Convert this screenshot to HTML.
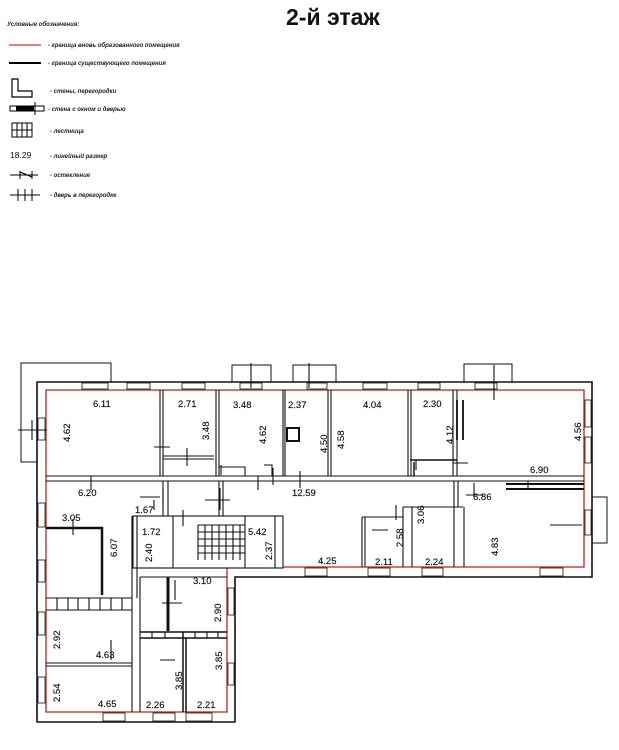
<!DOCTYPE html>
<html><head><meta charset="utf-8"><style>
html,body{margin:0;padding:0;background:#fff;}
svg{display:block;}
text{font-family:"Liberation Sans",sans-serif;}
.d{font-size:9.5px;fill:#111;font-weight:500;stroke:#111;stroke-width:0.15;}
.lg{font-size:6px;font-style:italic;font-weight:bold;fill:#222;}
</style></head><body>
<svg width="619" height="750" viewBox="0 0 619 750" xmlns="http://www.w3.org/2000/svg">
<text x="286" y="25" font-size="23" font-weight="bold" fill="#111" font-family="Liberation Sans,sans-serif">2-й этаж</text>
<!-- legend -->
<text x="7" y="26" class="lg">Условные обозначения:</text>
<line x1="9" y1="45" x2="41" y2="45" stroke="#c33" stroke-width="1.2"/>
<text x="48" y="47" class="lg">- граница вновь образованного помещения</text>
<line x1="9" y1="63" x2="41" y2="63" stroke="#000" stroke-width="2"/>
<text x="48" y="65" class="lg">- граница существующего помещения</text>
<path d="M12 79 H18 V91 H32 V97 H12 Z" fill="none" stroke="#000" stroke-width="1.2"/>
<text x="50" y="93" class="lg">- стены, перегородки</text>
<rect x="10" y="106" width="34" height="5" fill="none" stroke="#000"/><rect x="16" y="106" width="18" height="5" fill="#000"/><line x1="35" y1="102" x2="35" y2="115" stroke="#000"/>
<text x="48" y="111" class="lg">- стена с окном и дверью</text>
<rect x="12" y="123" width="20" height="14" fill="none" stroke="#000"/><path d="M17 123V137M22 123V137M27 123V137M12 130H32" stroke="#000" fill="none"/>
<text x="50" y="133" class="lg">- лестница</text>
<text x="10" y="158" font-size="8.5" fill="#111">18.29</text>
<text x="50" y="158" class="lg">- линейный размер</text>
<path d="M10 175H38M20 171V179M32 171V179M20 172L32 177" stroke="#000" fill="none"/>
<text x="50" y="177" class="lg">- остекление</text>
<path d="M10 195H40M18 189V201M25 189V201M32 189V201" stroke="#000" fill="none"/>
<text x="50" y="197" class="lg">- дверь в перегородке</text>

<g fill="none" stroke="#111" stroke-width="1">
<rect x="21" y="363" width="90" height="99" fill="#fff"/>
<rect x="232" y="365" width="39" height="17"/>
<rect x="293" y="365" width="43" height="17"/>
<rect x="464" y="364" width="48" height="18"/>
<rect x="592" y="497" width="15" height="46"/>
<path d="M37 382 H592 V577 H235 V722 H37 Z" fill="#fff" stroke-width="1.6"/>
</g>
<path d="M46 390 H584 V567 H227 V712 H46 Z" fill="none" stroke="#b22" stroke-width="1.3"/>
<g fill="#fff" stroke="#111" stroke-width="0.8">
<rect x="82" y="383" width="26" height="6"/><rect x="127" y="383" width="23" height="6"/><rect x="182" y="383" width="23" height="6"/><rect x="240" y="383" width="22" height="6"/><rect x="307" y="383" width="20" height="6"/><rect x="363" y="383" width="24" height="6"/><rect x="418" y="383" width="22" height="6"/><rect x="475" y="383" width="22" height="6"/>
<rect x="585" y="400" width="6" height="27"/><rect x="585" y="437" width="6" height="26"/><rect x="585" y="510" width="6" height="25"/>
<rect x="305" y="568" width="22" height="8"/><rect x="368" y="568" width="22" height="8"/><rect x="422" y="568" width="21" height="8"/><rect x="540" y="568" width="23" height="8"/>
<rect x="38" y="418" width="7" height="22"/><rect x="38" y="503" width="7" height="24"/><rect x="38" y="560" width="7" height="22"/><rect x="38" y="612" width="7" height="23"/><rect x="38" y="677" width="7" height="26"/>
<rect x="103" y="713" width="22" height="8"/><rect x="153" y="713" width="22" height="8"/><rect x="186" y="713" width="26" height="8"/>
<rect x="228" y="588" width="6" height="27"/><rect x="228" y="663" width="6" height="22"/>
</g>
<g fill="none" stroke="#111" stroke-width="1.1">
<path d="M46 476 H584 M46 481 H584"/>
<path d="M160 390V476M163 390V476M216 390V476M219 390V476M283 390V476M285 390V476M328 390V476M331 390V476M408 390V476M411 390V476M453 390V476M457 390V476"/>
<path d="M163 456H214M163 459H214M219 467H245V476M264 465H272V476"/>
<rect x="287" y="428" width="12" height="13" stroke-width="2"/>
<rect x="133" y="516" width="150" height="52" fill="#fff"/>
<path d="M173 516V568M198 525V560M245 516V568M275 516V568M163 481V516M168 481V516M219 481V516M223 481V516"/>
<path d="M198 525H245M198 532H245M198 539H245M198 546H245M198 553H245M205 525V560M212 525V560M219 525V560M226 525V560M233 525V560M240 525V560"/>
<path d="M362 517V567M365 517V567M362 517H403M403 507V567M412 507V567M403 507H463M454 481V567M458 481V507M464 507V567"/>
<path d="M506 484H584M506 489H584" stroke-width="2"/>
<path d="M410 460H457M414 462V476" stroke-width="1.5"/>
<path d="M457 400V440M463 400V440" stroke-width="1.8"/>
<path d="M46 528H102V595" stroke-width="2.5"/>
<path d="M132 516V712M137 516V598M46 598H132M46 610H132M46 663H132M46 666H132"/>
<path d="M57 598V610M68 598V610M78 598V610M89 598V610M100 598V610M111 598V610M122 598V610"/>
<path d="M140 577V712M140 577H227" />
<path d="M168 577V631" stroke-width="3"/>
<path d="M140 632H227M140 638H227M183 632V712M186 638V712" stroke-width="1.5"/>
<path d="M152 632V638M165 632V638M195 632V638M207 632V638M218 632V638"/>
<path d="M18 430H47M32 420V440M154 447H170M187 448V466M221 465V475M273 468V485M258 476V490M300 471V488M91 476V490M140 497H160M163 488V505M205 500H230M220 488V510M183 510V526M466 495H483M474 483V497M550 525H582M494 365V400M251 363V388M309 363V388M528 481V488M416 460V470M453 463H468M396 505V520M372 530H388M73 519V535M111 640V660M160 660H175M175 580V600M162 603H182M154 500V510"/>
</g>
<g class="d">
<text x="93" y="407">6.11</text><text x="178" y="407">2.71</text><text x="233" y="408">3.48</text><text x="288" y="408">2.37</text><text x="363" y="408">4.04</text><text x="423" y="407">2.30</text>
<text x="530" y="473">6.90</text><text x="78" y="496">6.20</text><text x="292" y="496">12.59</text><text x="135" y="513">1.67</text><text x="473" y="500">6.86</text>
<text x="62" y="521">3.05</text><text x="142" y="535">1.72</text><text x="248" y="535">5.42</text>
<text x="318" y="564">4.25</text><text x="375" y="565">2.11</text><text x="425" y="565">2.24</text>
<text x="193" y="584">3.10</text><text x="96" y="658">4.63</text><text x="98" y="707">4.65</text><text x="146" y="708">2.26</text><text x="197" y="708">2.21</text>
</g>
<g class="d">
<text transform="translate(70,442) rotate(-90)">4.62</text>
<text transform="translate(209,440) rotate(-90)">3.48</text>
<text transform="translate(266,444) rotate(-90)">4.62</text>
<text transform="translate(327,453) rotate(-90)">4.50</text>
<text transform="translate(344,449) rotate(-90)">4.58</text>
<text transform="translate(453,444) rotate(-90)">4.12</text>
<text transform="translate(581,441) rotate(-90)">4.56</text>
<text transform="translate(117,557) rotate(-90)">6.07</text>
<text transform="translate(152,562) rotate(-90)">2.40</text>
<text transform="translate(272,560) rotate(-90)">2.37</text>
<text transform="translate(403,547) rotate(-90)">2.58</text>
<text transform="translate(424,524) rotate(-90)">3.06</text>
<text transform="translate(498,556) rotate(-90)">4.83</text>
<text transform="translate(221,622) rotate(-90)">2.90</text>
<text transform="translate(60,649) rotate(-90)">2.92</text>
<text transform="translate(60,702) rotate(-90)">2.54</text>
<text transform="translate(182,690) rotate(-90)">3.85</text>
<text transform="translate(222,670) rotate(-90)">3.85</text>
</g>
</svg>
</body></html>
